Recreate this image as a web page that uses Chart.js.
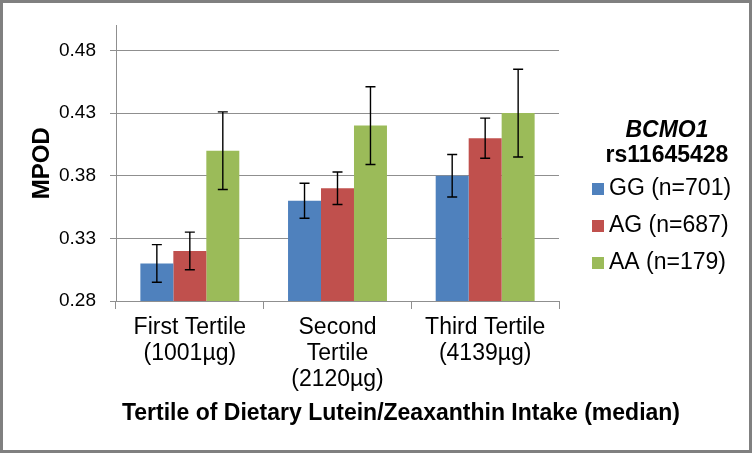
<!DOCTYPE html>
<html>
<head>
<meta charset="utf-8">
<script src="https://cdn.jsdelivr.net/npm/chart.js@4.4.1/dist/chart.umd.min.js"></script>
<style>
  html, body { margin: 0; padding: 0; background: #fff; }
  canvas { display: block; }
</style>
</head>
<body>
<canvas id="chart" width="752" height="453"></canvas>
<script>
// Data
const categories = [
  ["First Tertile", "(1001µg)"],
  ["Second", "Tertile", "(2120µg)"],
  ["Third Tertile", "(4139µg)"],
];
const seriesNames = ["GG (n=701)", "AG (n=687)", "AA (n=179)"];
const ggValues = [0.31, 0.36, 0.38];
const agValues = [0.32, 0.37, 0.41];
const aaValues = [0.40, 0.42, 0.43];
const ggErrors = [0.015, 0.014, 0.017];
const agErrors = [0.015, 0.013, 0.016];
const aaErrors = [0.031, 0.031, 0.035];
const yTickValues = [0.28, 0.33, 0.38, 0.43, 0.48];

const FONT = "'Liberation Sans', Arial, sans-serif";
const GRID = "#8f8f8f";
const COLORS = ["#4F81BD", "#C0504D", "#9BBB59"];

// Error bars drawn from the y scale
const errorBarPlugin = {
  id: "errorBars",
  afterDatasetsDraw(chart) {
    const { ctx } = chart;
    const yScale = chart.scales.y;
    ctx.save();
    ctx.strokeStyle = "#000";
    ctx.lineWidth = 1.4;
    chart.data.datasets.forEach((ds, i) => {
      const meta = chart.getDatasetMeta(i);
      meta.data.forEach((bar, j) => {
        const v = ds.data[j];
        const e = ds.errors[j];
        const top = yScale.getPixelForValue(v + e);
        const bot = yScale.getPixelForValue(v - e);
        ctx.beginPath();
        ctx.moveTo(bar.x, top);
        ctx.lineTo(bar.x, bot);
        ctx.moveTo(bar.x - 5, top);
        ctx.lineTo(bar.x + 5, top);
        ctx.moveTo(bar.x - 5, bot);
        ctx.lineTo(bar.x + 5, bot);
        ctx.stroke();
      });
    });
    ctx.restore();
  },
};

// Frame, x axis title and legend block
const decorPlugin = {
  id: "decor",
  beforeDraw(chart) {
    const { ctx, width, height } = chart;
    ctx.save();
    ctx.fillStyle = "#fff";
    ctx.fillRect(0, 0, width, height);
    ctx.restore();
  },
  afterDraw(chart) {
    const { ctx, width, height } = chart;
    ctx.save();
    ctx.strokeStyle = "#808080";
    ctx.lineWidth = 3;
    ctx.strokeRect(1.5, 1.5, width - 3, height - 3);

    ctx.fillStyle = "#000";
    ctx.textBaseline = "middle";
    ctx.textAlign = "center";
    ctx.font = "bold 23px " + FONT;
    ctx.fillText("Tertile of Dietary Lutein/Zeaxanthin Intake (median)", 401, 414);

    // legend
    ctx.font = "italic bold 23px " + FONT;
    ctx.fillText("BCMO1", 667, 131);
    ctx.font = "bold 23px " + FONT;
    ctx.fillText("rs11645428", 667, 156);

    ctx.textAlign = "left";
    ctx.font = "23px " + FONT;
    chart.data.datasets.forEach((ds, i) => {
      const y = 189 + i * 37;
      ctx.fillStyle = ds.backgroundColor;
      ctx.fillRect(592, y - 6, 12, 12);
      ctx.fillStyle = "#000";
      ctx.fillText(ds.label, 609, y);
    });
    ctx.restore();
  },
};

const seriesValues = [ggValues, agValues, aaValues];
const seriesErrors = [ggErrors, agErrors, aaErrors];

new Chart(document.getElementById("chart"), {
  type: "bar",
  data: {
    labels: categories,
    datasets: seriesNames.map((name, i) => ({
      label: name,
      data: seriesValues[i],
      errors: seriesErrors[i],
      backgroundColor: COLORS[i],
      borderWidth: 0,
      barPercentage: 1.0,
      categoryPercentage: 0.67,
    })),
  },
  options: {
    responsive: false,
    animation: false,
    devicePixelRatio: 1,
    layout: { padding: { top: 24, right: 193, left: 0, bottom: 0 } },
    plugins: {
      legend: { display: false },
      tooltip: { enabled: false },
    },
    scales: {
      x: {
        grid: {
          display: true,
          drawOnChartArea: false,
          drawTicks: true,
          tickLength: 8,
          offset: true,
          color: GRID,
        },
        border: { display: true, color: GRID },
        ticks: {
          color: "#000",
          padding: 6,
          maxRotation: 0,
          autoSkip: false,
          font: { family: FONT, size: 23, lineHeight: 1.13 },
        },
        afterFit(scale) {
          scale.height = 152;
        },
      },
      y: {
        min: 0.28,
        max: 0.5,
        afterBuildTicks(scale) {
          scale.ticks = yTickValues.map((v) => ({ value: v }));
        },
        grid: { color: GRID, tickLength: 6 },
        border: { display: true, color: GRID },
        ticks: {
          color: "#000",
          padding: 14,
          font: { family: FONT, size: 19 },
          callback: (v) => Number(v).toFixed(2),
        },
        title: {
          display: true,
          text: "MPOD",
          color: "#000",
          font: { family: FONT, size: 24, weight: "bold" },
          padding: { top: 28 },
        },
        afterFit(scale) {
          scale.width = 116;
        },
      },
    },
  },
  plugins: [errorBarPlugin, decorPlugin],
});
</script>
</body>
</html>
